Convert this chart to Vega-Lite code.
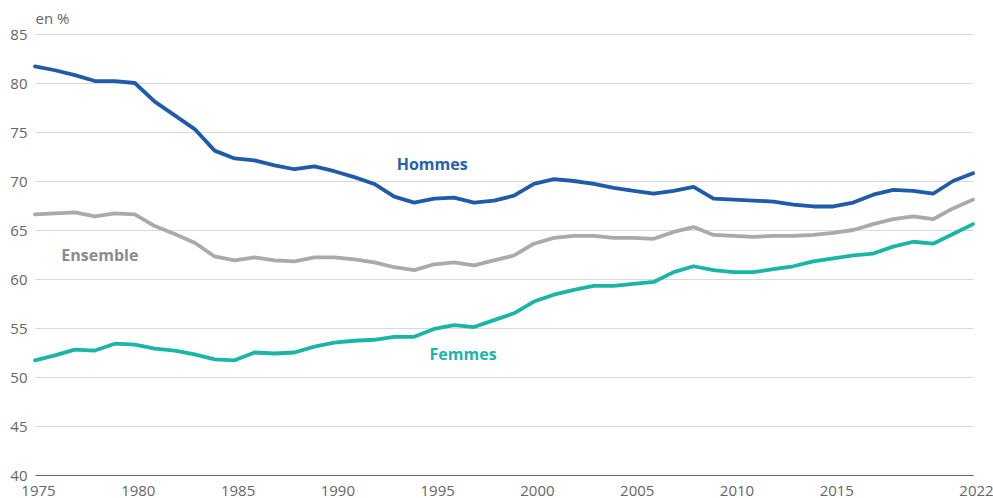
{
  "$schema": "https://vega.github.io/schema/vega-lite/v6.json",
  "width": 938,
  "height": 441,
  "autosize": "none",
  "padding": {"left": 35, "top": 34, "right": 20, "bottom": 23},
  "background": "white",
  "config": {
    "view": {"stroke": null},
    "font": "Open Sans",
    "axis": {"labelFont": "Open Sans", "titleFont": "Open Sans"}
  },
  "datasets": {
    "series": [
      {"annee": 1975, "serie": "Hommes", "taux": 81.7}, {"annee": 1976, "serie": "Hommes", "taux": 81.3}, {"annee": 1977, "serie": "Hommes", "taux": 80.8}, {"annee": 1978, "serie": "Hommes", "taux": 80.2}, {"annee": 1979, "serie": "Hommes", "taux": 80.2}, {"annee": 1980, "serie": "Hommes", "taux": 80.0}, {"annee": 1981, "serie": "Hommes", "taux": 78.1}, {"annee": 1982, "serie": "Hommes", "taux": 76.7}, {"annee": 1983, "serie": "Hommes", "taux": 75.3}, {"annee": 1984, "serie": "Hommes", "taux": 73.1}, {"annee": 1985, "serie": "Hommes", "taux": 72.3}, {"annee": 1986, "serie": "Hommes", "taux": 72.1}, {"annee": 1987, "serie": "Hommes", "taux": 71.6}, {"annee": 1988, "serie": "Hommes", "taux": 71.2}, {"annee": 1989, "serie": "Hommes", "taux": 71.5}, {"annee": 1990, "serie": "Hommes", "taux": 71.0}, {"annee": 1991, "serie": "Hommes", "taux": 70.4}, {"annee": 1992, "serie": "Hommes", "taux": 69.7}, {"annee": 1993, "serie": "Hommes", "taux": 68.4}, {"annee": 1994, "serie": "Hommes", "taux": 67.8}, {"annee": 1995, "serie": "Hommes", "taux": 68.2}, {"annee": 1996, "serie": "Hommes", "taux": 68.3}, {"annee": 1997, "serie": "Hommes", "taux": 67.8}, {"annee": 1998, "serie": "Hommes", "taux": 68.0}, {"annee": 1999, "serie": "Hommes", "taux": 68.5}, {"annee": 2000, "serie": "Hommes", "taux": 69.7}, {"annee": 2001, "serie": "Hommes", "taux": 70.2}, {"annee": 2002, "serie": "Hommes", "taux": 70.0}, {"annee": 2003, "serie": "Hommes", "taux": 69.7}, {"annee": 2004, "serie": "Hommes", "taux": 69.3}, {"annee": 2005, "serie": "Hommes", "taux": 69.0}, {"annee": 2006, "serie": "Hommes", "taux": 68.7}, {"annee": 2007, "serie": "Hommes", "taux": 69.0}, {"annee": 2008, "serie": "Hommes", "taux": 69.4}, {"annee": 2009, "serie": "Hommes", "taux": 68.2}, {"annee": 2010, "serie": "Hommes", "taux": 68.1}, {"annee": 2011, "serie": "Hommes", "taux": 68.0}, {"annee": 2012, "serie": "Hommes", "taux": 67.9}, {"annee": 2013, "serie": "Hommes", "taux": 67.6}, {"annee": 2014, "serie": "Hommes", "taux": 67.4}, {"annee": 2015, "serie": "Hommes", "taux": 67.4}, {"annee": 2016, "serie": "Hommes", "taux": 67.8}, {"annee": 2017, "serie": "Hommes", "taux": 68.6}, {"annee": 2018, "serie": "Hommes", "taux": 69.1}, {"annee": 2019, "serie": "Hommes", "taux": 69.0}, {"annee": 2020, "serie": "Hommes", "taux": 68.7}, {"annee": 2021, "serie": "Hommes", "taux": 70.0}, {"annee": 2022, "serie": "Hommes", "taux": 70.8},
      {"annee": 1975, "serie": "Ensemble", "taux": 66.6}, {"annee": 1976, "serie": "Ensemble", "taux": 66.7}, {"annee": 1977, "serie": "Ensemble", "taux": 66.8}, {"annee": 1978, "serie": "Ensemble", "taux": 66.4}, {"annee": 1979, "serie": "Ensemble", "taux": 66.7}, {"annee": 1980, "serie": "Ensemble", "taux": 66.6}, {"annee": 1981, "serie": "Ensemble", "taux": 65.4}, {"annee": 1982, "serie": "Ensemble", "taux": 64.6}, {"annee": 1983, "serie": "Ensemble", "taux": 63.7}, {"annee": 1984, "serie": "Ensemble", "taux": 62.3}, {"annee": 1985, "serie": "Ensemble", "taux": 61.9}, {"annee": 1986, "serie": "Ensemble", "taux": 62.2}, {"annee": 1987, "serie": "Ensemble", "taux": 61.9}, {"annee": 1988, "serie": "Ensemble", "taux": 61.8}, {"annee": 1989, "serie": "Ensemble", "taux": 62.2}, {"annee": 1990, "serie": "Ensemble", "taux": 62.2}, {"annee": 1991, "serie": "Ensemble", "taux": 62.0}, {"annee": 1992, "serie": "Ensemble", "taux": 61.7}, {"annee": 1993, "serie": "Ensemble", "taux": 61.2}, {"annee": 1994, "serie": "Ensemble", "taux": 60.9}, {"annee": 1995, "serie": "Ensemble", "taux": 61.5}, {"annee": 1996, "serie": "Ensemble", "taux": 61.7}, {"annee": 1997, "serie": "Ensemble", "taux": 61.4}, {"annee": 1998, "serie": "Ensemble", "taux": 61.9}, {"annee": 1999, "serie": "Ensemble", "taux": 62.4}, {"annee": 2000, "serie": "Ensemble", "taux": 63.6}, {"annee": 2001, "serie": "Ensemble", "taux": 64.2}, {"annee": 2002, "serie": "Ensemble", "taux": 64.4}, {"annee": 2003, "serie": "Ensemble", "taux": 64.4}, {"annee": 2004, "serie": "Ensemble", "taux": 64.2}, {"annee": 2005, "serie": "Ensemble", "taux": 64.2}, {"annee": 2006, "serie": "Ensemble", "taux": 64.1}, {"annee": 2007, "serie": "Ensemble", "taux": 64.8}, {"annee": 2008, "serie": "Ensemble", "taux": 65.3}, {"annee": 2009, "serie": "Ensemble", "taux": 64.5}, {"annee": 2010, "serie": "Ensemble", "taux": 64.4}, {"annee": 2011, "serie": "Ensemble", "taux": 64.3}, {"annee": 2012, "serie": "Ensemble", "taux": 64.4}, {"annee": 2013, "serie": "Ensemble", "taux": 64.4}, {"annee": 2014, "serie": "Ensemble", "taux": 64.5}, {"annee": 2015, "serie": "Ensemble", "taux": 64.7}, {"annee": 2016, "serie": "Ensemble", "taux": 65.0}, {"annee": 2017, "serie": "Ensemble", "taux": 65.6}, {"annee": 2018, "serie": "Ensemble", "taux": 66.1}, {"annee": 2019, "serie": "Ensemble", "taux": 66.4}, {"annee": 2020, "serie": "Ensemble", "taux": 66.1}, {"annee": 2021, "serie": "Ensemble", "taux": 67.2}, {"annee": 2022, "serie": "Ensemble", "taux": 68.1},
      {"annee": 1975, "serie": "Femmes", "taux": 51.7}, {"annee": 1976, "serie": "Femmes", "taux": 52.2}, {"annee": 1977, "serie": "Femmes", "taux": 52.8}, {"annee": 1978, "serie": "Femmes", "taux": 52.7}, {"annee": 1979, "serie": "Femmes", "taux": 53.4}, {"annee": 1980, "serie": "Femmes", "taux": 53.3}, {"annee": 1981, "serie": "Femmes", "taux": 52.9}, {"annee": 1982, "serie": "Femmes", "taux": 52.7}, {"annee": 1983, "serie": "Femmes", "taux": 52.3}, {"annee": 1984, "serie": "Femmes", "taux": 51.8}, {"annee": 1985, "serie": "Femmes", "taux": 51.7}, {"annee": 1986, "serie": "Femmes", "taux": 52.5}, {"annee": 1987, "serie": "Femmes", "taux": 52.4}, {"annee": 1988, "serie": "Femmes", "taux": 52.5}, {"annee": 1989, "serie": "Femmes", "taux": 53.1}, {"annee": 1990, "serie": "Femmes", "taux": 53.5}, {"annee": 1991, "serie": "Femmes", "taux": 53.7}, {"annee": 1992, "serie": "Femmes", "taux": 53.8}, {"annee": 1993, "serie": "Femmes", "taux": 54.1}, {"annee": 1994, "serie": "Femmes", "taux": 54.1}, {"annee": 1995, "serie": "Femmes", "taux": 54.9}, {"annee": 1996, "serie": "Femmes", "taux": 55.3}, {"annee": 1997, "serie": "Femmes", "taux": 55.1}, {"annee": 1998, "serie": "Femmes", "taux": 55.8}, {"annee": 1999, "serie": "Femmes", "taux": 56.5}, {"annee": 2000, "serie": "Femmes", "taux": 57.7}, {"annee": 2001, "serie": "Femmes", "taux": 58.4}, {"annee": 2002, "serie": "Femmes", "taux": 58.9}, {"annee": 2003, "serie": "Femmes", "taux": 59.3}, {"annee": 2004, "serie": "Femmes", "taux": 59.3}, {"annee": 2005, "serie": "Femmes", "taux": 59.5}, {"annee": 2006, "serie": "Femmes", "taux": 59.7}, {"annee": 2007, "serie": "Femmes", "taux": 60.7}, {"annee": 2008, "serie": "Femmes", "taux": 61.3}, {"annee": 2009, "serie": "Femmes", "taux": 60.9}, {"annee": 2010, "serie": "Femmes", "taux": 60.7}, {"annee": 2011, "serie": "Femmes", "taux": 60.7}, {"annee": 2012, "serie": "Femmes", "taux": 61.0}, {"annee": 2013, "serie": "Femmes", "taux": 61.3}, {"annee": 2014, "serie": "Femmes", "taux": 61.8}, {"annee": 2015, "serie": "Femmes", "taux": 62.1}, {"annee": 2016, "serie": "Femmes", "taux": 62.4}, {"annee": 2017, "serie": "Femmes", "taux": 62.6}, {"annee": 2018, "serie": "Femmes", "taux": 63.3}, {"annee": 2019, "serie": "Femmes", "taux": 63.8}, {"annee": 2020, "serie": "Femmes", "taux": 63.6}, {"annee": 2021, "serie": "Femmes", "taux": 64.6}, {"annee": 2022, "serie": "Femmes", "taux": 65.6}
    ],
    "labels": [
      {"annee": 1994.9, "taux": 71.6, "serie": "Hommes"},
      {"annee": 1978.25, "taux": 62.3, "serie": "Ensemble"},
      {"annee": 1996.45, "taux": 52.2, "serie": "Femmes"}
    ]
  },
  "layer": [
    {
      "data": {"name": "series"},
      "mark": {"type": "line", "strokeWidth": 3.8, "strokeJoin": "round", "strokeCap": "round"},
      "encoding": {
        "x": {
          "field": "annee", "type": "quantitative",
          "scale": {"domain": [1975, 2022], "nice": false, "zero": false},
          "axis": {
            "title": null, "values": [1975, 1980, 1985, 1990, 1995, 2000, 2005, 2010, 2015, 2022],
            "format": "d", "grid": false, "ticks": false, "domain": true, "domainColor": "#666666", "domainWidth": 1.2,
            "labelColor": "#666666", "labelFontSize": 15, "labelPadding": 8, "labelOffset": 3, "labelFlush": false
          }
        },
        "y": {
          "field": "taux", "type": "quantitative",
          "scale": {"domain": [40, 85], "nice": false, "zero": false},
          "axis": {
            "title": "en %", "titleAngle": 0, "titleAlign": "left", "titleBaseline": "alphabetic",
            "titleX": 0, "titleY": -11, "titleColor": "#666666", "titleFontSize": 15, "titleFontWeight": "normal",
            "values": [40, 45, 50, 55, 60, 65, 70, 75, 80, 85],
            "grid": true, "gridColor": "#d9d9d9", "gridWidth": 1, "ticks": false, "domain": false,
            "labelColor": "#666666", "labelFontSize": 15, "labelPadding": 8
          }
        },
        "color": {
          "field": "serie", "type": "nominal",
          "scale": {"domain": ["Hommes", "Ensemble", "Femmes"], "range": ["#1f5ba8", "#aaaaaa", "#1bb5a8"]},
          "legend": null
        },
        "detail": {"field": "serie"}
      }
    },
    {
      "data": {"name": "labels"},
      "mark": {"type": "text", "fontSize": 16, "fontWeight": "bold", "align": "center", "baseline": "middle"},
      "encoding": {
        "x": {"field": "annee", "type": "quantitative"},
        "y": {"field": "taux", "type": "quantitative"},
        "text": {"field": "serie"},
        "color": {
          "field": "serie", "type": "nominal",
          "scale": {"domain": ["Hommes", "Ensemble", "Femmes"], "range": ["#2a60ab", "#8c8c8c", "#1bb5a8"]},
          "legend": null
        }
      }
    }
  ],
  "resolve": {"scale": {"color": "independent"}}
}
